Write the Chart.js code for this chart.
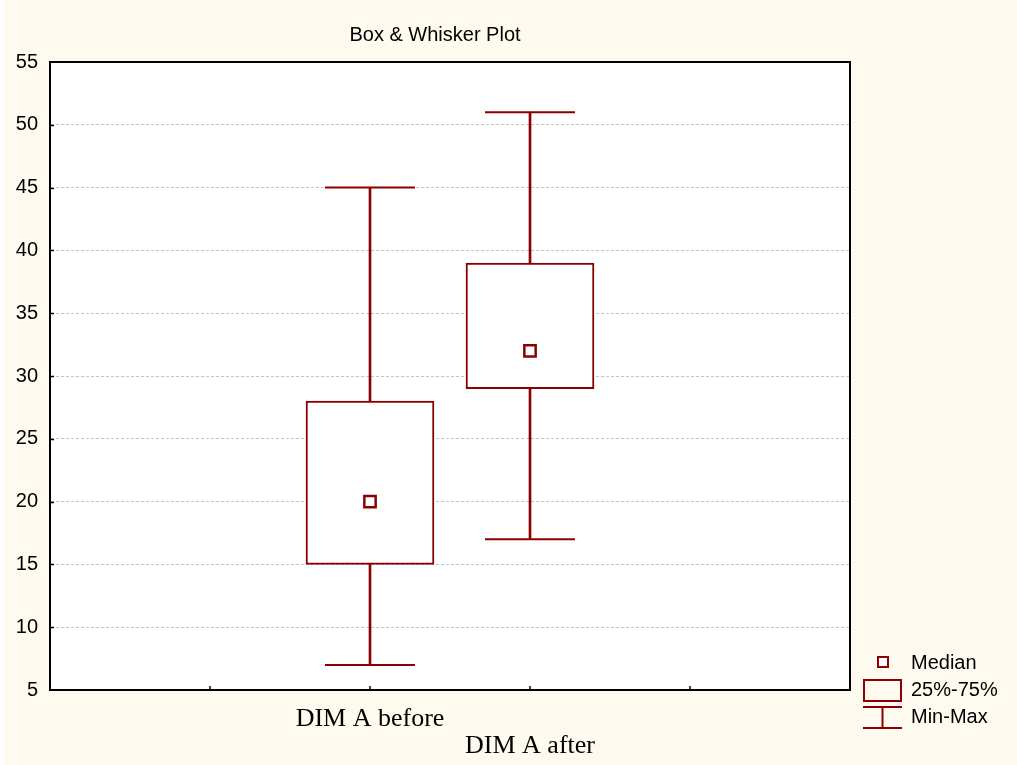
<!DOCTYPE html>
<html>
<head>
<meta charset="utf-8">
<script src="https://cdn.jsdelivr.net/npm/chart.js@4"></script>
<style>
  html, body { margin: 0; padding: 0; background: #ffffff; }
  #wrap { width: 1017px; height: 765px; }
</style>
</head>
<body>
<div id="wrap"><canvas id="c" width="1017" height="765"></canvas></div>
<script>
// ---- data ----
const categories = ['DIM A before', 'DIM A after'];
const minValues = [7, 17];
const q1Values = [15, 29];
const medianValues = [20, 32];
const q3Values = [28, 39];
const maxValues = [45, 51];
const yTicks = [5, 10, 15, 20, 25, 30, 35, 40, 45, 50, 55];
const titleText = 'Box & Whisker Plot';
const legendLabels = ['Median', '25%-75%', 'Min-Max'];

// ---- build slots (two empty slots on each side) ----
const pad = ['', ''];
const labels = pad.concat(categories, pad);
const slot = (arr) => [null, null].concat(arr, [null, null]);
const pairs = (a, b) => slot(a.map((v, i) => [v, b[i]]));

const RED = '#8B0000';
const CREAM = '#FFFAF0';

const decor = {
  id: 'decor',
  beforeDraw(chart) {
    const ctx = chart.ctx, a = chart.chartArea;
    ctx.save();
    ctx.fillStyle = '#ffffff';
    ctx.fillRect(0, 0, chart.width, chart.height);
    ctx.fillStyle = CREAM;
    ctx.fillRect(4, 0, chart.width - 4, chart.height);
    ctx.fillStyle = '#ffffff';
    ctx.fillRect(a.left, a.top, a.right - a.left, a.bottom - a.top);
    ctx.restore();
  },
  afterDraw(chart) {
    const ctx = chart.ctx, a = chart.chartArea;
    const xs = chart.scales.x, ys = chart.scales.y;
    ctx.save();
    // frame
    ctx.strokeStyle = '#000';
    ctx.lineWidth = 2;
    ctx.strokeRect(a.left, a.top, a.right - a.left, a.bottom - a.top);
    // inner tick marks
    ctx.lineWidth = 1.5;
    ctx.beginPath();
    yTicks.forEach(v => {
      if (v === ys.min || v === ys.max) return;
      const y = Math.round(ys.getPixelForValue(v)) + 0.5;
      ctx.moveTo(a.left, y); ctx.lineTo(a.left + 4, y);
    });
    for (let i = 1; i < labels.length - 1; i++) {
      const x = Math.round(xs.getPixelForValue(i));
      ctx.moveTo(x, a.bottom); ctx.lineTo(x, a.bottom - 4);
    }
    ctx.stroke();
    // title
    ctx.fillStyle = '#000';
    ctx.font = '20px "Liberation Sans", Arial, sans-serif';
    ctx.textAlign = 'center';
    ctx.textBaseline = 'middle';
    ctx.fillText(titleText, 435, 35);
    // legend
    const lx = 863, tx = 911;
    ctx.textAlign = 'left';
    ctx.strokeStyle = RED;
    ctx.lineWidth = 2;
    // median symbol
    ctx.fillStyle = '#fff';
    ctx.fillRect(878, 657, 10, 10);
    ctx.strokeRect(878, 657, 10, 10);
    // box symbol
    ctx.strokeRect(lx + 1, 680, 37, 21);
    // whisker symbol
    ctx.beginPath();
    ctx.moveTo(lx, 707); ctx.lineTo(lx + 39, 707);
    ctx.moveTo(lx + 19.5, 707); ctx.lineTo(lx + 19.5, 728);
    ctx.moveTo(lx, 728); ctx.lineTo(lx + 39, 728);
    ctx.stroke();
    ctx.fillStyle = '#000';
    ctx.fillText(legendLabels[0], tx, 663);
    ctx.fillText(legendLabels[1], tx, 690);
    ctx.fillText(legendLabels[2], tx, 717);
    ctx.restore();
  }
};

new Chart(document.getElementById('c'), {
  type: 'bar',
  data: {
    labels: labels,
    datasets: [
      {
        label: '25%-75%',
        data: pairs(q1Values, q3Values),
        backgroundColor: '#ffffff',
        borderColor: RED,
        borderWidth: 2,
        borderSkipped: false,
        barThickness: 128,
        grouped: false,
        order: 3
      },
      {
        label: 'lower whisker',
        data: pairs(minValues, q1Values),
        backgroundColor: RED,
        borderWidth: 0,
        barThickness: 2,
        grouped: false,
        order: 2
      },
      {
        label: 'upper whisker',
        data: pairs(q3Values, maxValues),
        backgroundColor: RED,
        borderWidth: 0,
        barThickness: 2,
        grouped: false,
        order: 2
      },
      {
        type: 'line',
        label: 'Min',
        data: slot(minValues),
        showLine: false,
        pointStyle: 'line',
        pointRadius: 45,
        pointBorderColor: RED,
        pointBorderWidth: 2,
        order: 1
      },
      {
        type: 'line',
        label: 'Max',
        data: slot(maxValues),
        showLine: false,
        pointStyle: 'line',
        pointRadius: 45,
        pointBorderColor: RED,
        pointBorderWidth: 2,
        order: 1
      },
      {
        type: 'line',
        label: 'Median',
        data: slot(medianValues),
        showLine: false,
        pointStyle: 'rect',
        pointRadius: 8,
        pointBackgroundColor: '#ffffff',
        pointBorderColor: RED,
        pointBorderWidth: 2.5,
        order: 0
      }
    ]
  },
  options: {
    responsive: false,
    animation: false,
    events: [],
    layout: { padding: { left: 0, top: 62, right: 167, bottom: 0 } },
    plugins: {
      legend: { display: false },
      title: { display: false },
      tooltip: { enabled: false }
    },
    scales: {
      x: {
        type: 'category',
        offset: false,
        grid: { display: false, offset: false, drawTicks: false },
        border: { display: true, color: '#000', width: 2 },
        afterFit: (s) => { s.height = 75; },
        ticks: {
          autoSkip: false,
          maxRotation: 0,
          minRotation: 0,
          padding: 16,
          color: '#000',
          font: { family: '"Liberation Serif", "Times New Roman", serif', size: 26, lineHeight: 1.04 },
          callback: function (val, idx) {
            const l = labels[idx];
            if (!l) return '';
            return (idx - 2) % 2 === 1 ? ['', l] : l;
          }
        }
      },
      y: {
        min: 5,
        max: 55,
        afterFit: (s) => { s.width = 50; },
        afterBuildTicks: (s) => { s.ticks = yTicks.map(v => ({ value: v })); },
        grid: {
          drawTicks: false,
          lineWidth: 1,
          color: (c) => (c.tick && (c.tick.value === 5 || c.tick.value === 55)) ? 'rgba(0,0,0,0)' : '#c4c4c4'
        },
        border: { display: true, color: '#000', width: 2, dash: [3, 2] },
        ticks: {
          padding: 12,
          color: '#000',
          font: { family: '"Liberation Sans", Arial, sans-serif', size: 20 }
        }
      }
    }
  },
  plugins: [decor]
});
</script>
</body>
</html>
